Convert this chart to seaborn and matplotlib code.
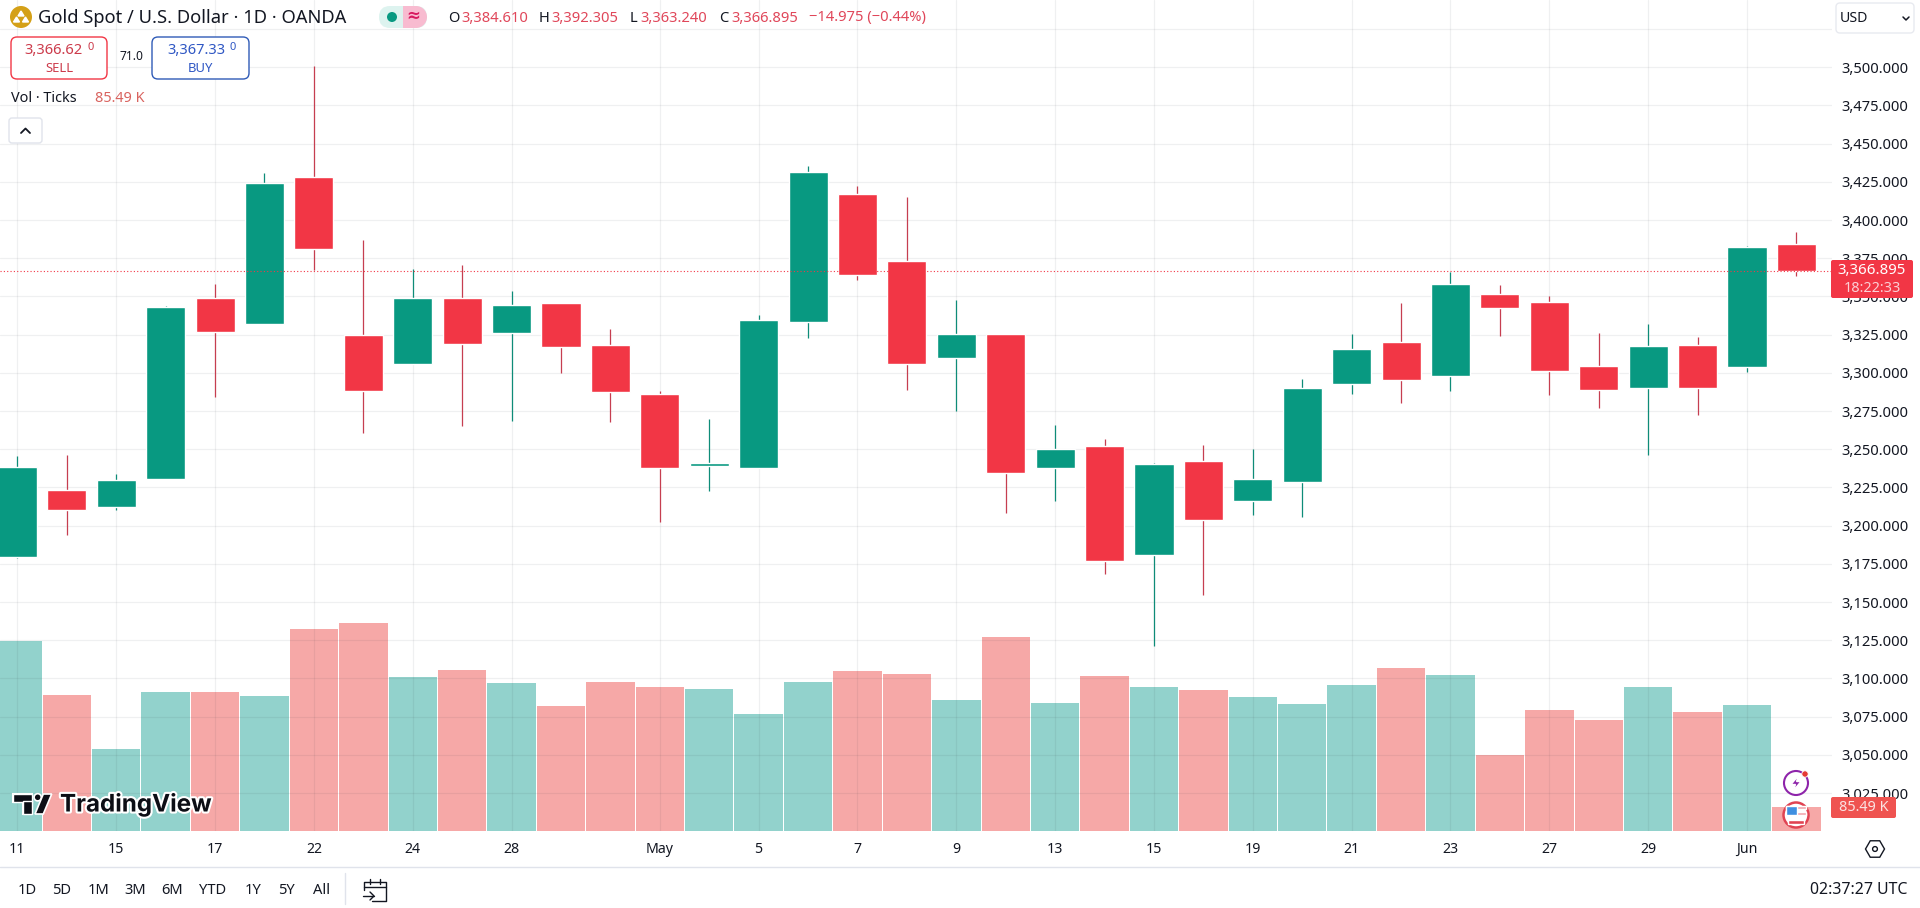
# Gold Spot / USD - TradingView daily candles + tick volume
import matplotlib
matplotlib.use('Agg')
import matplotlib.pyplot as plt
import matplotlib.patheffects as pe
from matplotlib.patches import FancyBboxPatch, Circle, Polygon, Rectangle, RegularPolygon, Wedge
import pandas as pd
import seaborn as sns

# Dane
opens = [3179.5, 3223.4, 3212.5, 3230.8, 3349.0, 3332.2, 3428.2, 3324.8, 3306.0, 3349.0, 3326.4, 3345.8, 3318.3,
         3286.0, 3239.1, 3237.8, 3333.4, 3416.9, 3373.1, 3309.8, 3325.3, 3237.8, 3252.0, 3180.9, 3242.2,
         3215.9, 3228.3, 3292.5, 3320.4, 3297.7, 3351.8, 3346.6, 3304.7, 3289.8, 3318.4, 3303.6, 3384.61]
closes = [3238.4, 3210.5, 3230.0, 3343.1, 3327.0, 3424.3, 3381.3, 3288.4, 3349.0, 3319.2, 3344.5, 3317.2, 3287.7,
          3237.8, 3240.9, 3334.5, 3431.3, 3364.1, 3305.9, 3325.3, 3234.6, 3250.0, 3177.0, 3240.2, 3203.8,
          3230.7, 3290.3, 3315.8, 3295.1, 3358.3, 3342.2, 3301.0, 3288.5, 3317.8, 3289.8, 3382.5, 3366.895]
highs = [3245.6, 3246.3, 3233.9, 3343.8, 3358.2, 3430.8, 3500.9, 3386.8, 3367.8, 3370.6, 3353.8, 3345.8, 3328.5,
         3288.0, 3269.7, 3337.7, 3435.3, 3422.4, 3415.0, 3347.6, 3325.3, 3265.8, 3257.0, 3241.1, 3252.7,
         3250.3, 3296.2, 3325.6, 3345.9, 3366.2, 3357.7, 3350.3, 3326.3, 3332.2, 3323.6, 3383.2, 3392.305]
lows = [3179.0, 3194.0, 3210.3, 3230.8, 3284.5, 3332.2, 3367.4, 3260.9, 3306.0, 3265.5, 3268.8, 3300.2, 3267.7,
        3202.5, 3222.8, 3237.8, 3322.9, 3360.9, 3288.7, 3275.1, 3208.4, 3216.0, 3168.5, 3121.0, 3154.5,
        3207.2, 3205.4, 3285.9, 3280.0, 3287.9, 3323.9, 3285.7, 3276.7, 3246.0, 3272.2, 3300.3, 3363.24]
volumes = [684, 489, 295, 500, 500, 486, 728, 749, 554, 580, 533, 450, 536, 518, 511, 421, 536, 576, 565,
           471, 699, 461, 558, 518, 508, 482, 457, 526, 587, 561, 273, 435, 399, 518, 428, 453, 85.49]
date_ticks = [0, 2, 4, 6, 8, 10, 13, 15, 17, 19, 21, 23, 25, 27, 29, 31, 33, 35]
date_labels = ['11', '15', '17', '22', '24', '28', 'May', '5', '7', '9', '13', '15', '19', '21', '23', '27', '29', 'Jun']
price_ticks = [3025, 3050, 3075, 3100, 3125, 3150, 3175, 3200, 3225, 3250, 3275, 3300, 3325, 3350, 3375, 3400,
               3425, 3450, 3475, 3500, 3525]
range_buttons = ['1D', '5D', '1M', '3M', '6M', 'YTD', '1Y', '5Y', 'All']

UP = '#089981'
DOWN = '#F23645'
INK = '#131722'
W, H = 1920, 908

df = pd.DataFrame({'bar': range(len(opens)), 'open': opens, 'close': closes, 'high': highs, 'low': lows, 'vol': volumes})
df['dir'] = ['up' if c >= o else 'down' for o, c in zip(df['open'], df['close'])]
up = df[df['dir'] == 'up']
down = df[df['dir'] == 'down']

sns.set_theme(style='white')
plt.rcParams['font.family'] = ['Noto Sans', 'DejaVu Sans']

fig = plt.figure(figsize=(W / 100, H / 100), dpi=100, facecolor='white')
rect = [0, 1 - 831 / H, 1832 / W, 831 / H]
xlim = (-0.352, 36.72)

# Wolumen (pod spodem)
ax_vol = fig.add_axes(rect, zorder=0)
sns.barplot(data=df, x='bar', y='vol', hue='dir', palette={'up': '#26A69A', 'down': '#EF5350'}, native_scale=True,
            dodge=False, width=0.98, saturation=1, alpha=0.5, linewidth=0, legend=False, errorbar=None, ax=ax_vol)
ax_vol.set_xlim(xlim)
ax_vol.set_ylim(0, 2997)
ax_vol.set_axis_off()

# Świece
ax = fig.add_axes(rect, zorder=1)
ax.patch.set_visible(False)
ax.vlines(up['bar'], up['low'], up['high'], color='#0E8C78', lw=0.9, zorder=3)
ax.vlines(down['bar'], down['low'], down['high'], color='#C63E50', lw=0.9, zorder=3)
ax.bar(up['bar'], up['close'] - up['open'], bottom=up['open'], width=0.79, color=UP, zorder=4)
ax.bar(down['bar'], down['open'] - down['close'], bottom=down['close'], width=0.79, color=DOWN, zorder=4)
ax.axhline(closes[-1], color=DOWN, ls=(0, (1, 2)), lw=0.8, zorder=5)
ax.set_xlim(xlim)
ax.set_ylim(3000.2, 3544)

ax.yaxis.tick_right()
ax.set_yticks(price_ticks)
ax.set_yticklabels(['' if p == 3525 else f'{p:,.3f}' for p in price_ticks])
ax.set_xticks(date_ticks)
ax.set_xticklabels(date_labels)
for lab in ax.get_xticklabels():
    if lab.get_text() in ('May', 'Jun'):
        lab.set_fontweight('bold')
ax.tick_params(axis='y', length=0, pad=7, labelsize=10.6, labelcolor=INK)
ax.tick_params(axis='x', length=0, pad=8, labelsize=10.2, labelcolor=INK)
ax.set_axisbelow(True)
ax.grid(True, color='#2A2E39', alpha=0.07, lw=0.9)
ax.set_xlabel('')
ax.set_ylabel('')
sns.despine(ax=ax, left=True, bottom=True, right=True, top=True)

# Nakładka w pikselach - elementy interfejsu
ov = fig.add_axes([0, 0, 1, 1], zorder=5)
ov.set_xlim(0, W)
ov.set_ylim(H, 0)
ov.set_axis_off()
ov.patch.set_visible(False)


def txt(x, y, s, size=10.5, color=INK, ha='left', weight='normal', **kw):
    return ov.text(x, y, s, fontsize=size, color=color, ha=ha, va='center', fontweight=weight, **kw)


def box(x0, y0, x1, y1, r=4, fc='white', ec='none', lw=1.0):
    p = FancyBboxPatch((x0, y0), x1 - x0, y1 - y0, boxstyle=f'round,pad=0,rounding_size={r}', fc=fc, ec=ec, lw=lw)
    ov.add_patch(p)
    return p


# Nagłówek
ov.add_patch(Circle((21, 17), 11, fc='#D4A017', ec='none'))
ov.add_patch(Polygon([(21, 11), (24, 16), (18, 16)], fc='white'))
ov.add_patch(Polygon([(16.5, 17), (19.5, 22), (13.5, 22)], fc='white'))
ov.add_patch(Polygon([(25.5, 17), (28.5, 22), (22.5, 22)], fc='white'))
txt(38, 18, 'Gold Spot / U.S. Dollar · 1D · OANDA', size=13.2)
box(379, 6, 427, 28, r=11, fc='#DDF3EF')
ov.add_patch(Wedge((416, 17), 11, -90, 90, fc='#F8BBD0', ec='none'))
ov.add_patch(Rectangle((403, 6), 13, 22, fc='#F8BBD0', ec='none'))
ov.add_patch(Circle((392, 17), 5, fc=UP, ec='none'))
txt(413, 17, '≈', size=12, color='#D81B60', ha='center', weight='bold')
for x_l, x_v, letter, val in [(448, 461, 'O', '3,384.610'), (539, 551, 'H', '3,392.305'),
                              (630, 640, 'L', '3,363.240'), (719, 731, 'C', '3,366.895')]:
    txt(x_l, 18, letter, size=10.6)
    txt(x_v, 18, val, size=10.6, color='#E0475A')
txt(809, 18, '−14.975 (−0.44%)', size=10.6, color='#E0475A')

# Sell / Buy
box(11, 37, 107, 79, r=6, ec=DOWN)
txt(24, 50, '3,366.62', size=10.6, color='#CC3B4B', weight='bold')
txt(88, 47, '0', size=8, color='#CC3B4B')
txt(59, 68, 'SELL', size=9.4, color='#CC3B4B', ha='center')
txt(131, 57, '71.0', size=8.6, ha='center')
box(152, 37, 249, 79, r=6, ec='#2F5BB7')
txt(167, 50, '3,367.33', size=10.6, color='#2F57C4', weight='bold')
txt(230, 47, '0', size=8, color='#2F57C4')
txt(200, 68, 'BUY', size=9.4, color='#2F57C4', ha='center')

# Vol
txt(11, 99, 'Vol · Ticks', size=10.4)
txt(95, 99, '85.49 K', size=10.4, color='#D9635F')
box(9, 118, 42, 143, r=3, ec='#E0E3EB')
ov.plot([21, 25.5, 30], [133, 128.5, 133], color=INK, lw=1.3, solid_capstyle='round')

# Waluta
box(1836, 3, 1914, 33, r=4, ec='#E8EAF0')
txt(1840, 18, 'USD', size=10.2)
ov.plot([1903, 1906, 1909], [17, 20, 17], color=INK, lw=1.1)

# Etykiety ceny i wolumenu
box(1831, 260, 1913, 298, r=2, fc=DOWN)
txt(1872, 270, '3,366.895', size=10.8, color='white', ha='center', weight='bold')
txt(1872, 288, '18:22:33', size=10.4, color='#FBD0D5', ha='center')
box(1831, 797, 1896, 818, r=2, fc='#EF5350')
txt(1864, 807.5, '85.49 K', size=10.4, color='#FBE3E2', ha='center')

# Ikony nad osią
ov.add_patch(Circle((1796, 783), 12, fc='white', ec='#8E24AA', lw=1.5))
ov.add_patch(Polygon([(1799, 775), (1791, 784.5), (1795.5, 784.5), (1793, 791), (1801, 781.5), (1796.5, 781.5)],
                     fc='#8E24AA'))
ov.add_patch(Circle((1805, 774), 3.2, fc='#E53935', ec='white', lw=0.6))
ov.add_patch(Circle((1796, 815), 12.5, fc='white', ec='#E04352', lw=1.8))
ov.add_patch(Rectangle((1786, 806), 20, 3, fc='#F2A6AE'))
ov.add_patch(Rectangle((1786, 812), 20, 3, fc='#F2A6AE'))
ov.add_patch(Rectangle((1788, 820), 16, 3.5, fc='#E04352'))
ov.add_patch(Rectangle((1786, 806), 11, 9, fc='#3F8FE0'))

# Logo
halo = [pe.withStroke(linewidth=3, foreground='white')]
for part in [Rectangle((13.3, 794), 19, 7.7, fc='#0C0E15', ec='white', lw=1.5),
             Rectangle((22.7, 801), 9.6, 13, fc='#0C0E15', ec='white', lw=1.5),
             Circle((37.7, 797.3), 3.6, fc='#0C0E15', ec='white', lw=1.2),
             Polygon([(43.3, 794), (51.7, 794), (43.3, 814), (35, 814)], fc='#0C0E15', ec='white', lw=1.2)]:
    ov.add_patch(part)
ov.add_patch(Rectangle((13.3, 794), 19, 7.7, fc='#0C0E15'))
ov.add_patch(Rectangle((22.7, 801), 9.6, 13, fc='#0C0E15'))
txt(60, 805, 'TradingView', size=17.4, color='#0C0E15', weight='bold', family='Inter', path_effects=halo)

# Ikona ustawień
ov.add_patch(RegularPolygon((1875, 849), 6, radius=9.5, orientation=0.5236, fc='white', ec=INK, lw=1.0))
ov.add_patch(Circle((1875, 849), 2.4, fc='white', ec=INK, lw=1.0))

# Dolny pasek
ov.plot([0, W], [866.5, 866.5], color='#E0E3EB', lw=1.0)
for x, s in zip([27.7, 62, 98.7, 135, 171.7, 212.7, 252.7, 286.7, 321.7], range_buttons):
    txt(x, 890.5, s, size=10.6, ha='center')
ov.plot([345.3, 345.3], [873, 904], color='#E0E3EB', lw=1.0)
ov.plot([364, 364, 386, 386, 372], [890, 882, 882, 901, 901], color=INK, lw=1.0)
ov.plot([364, 386], [886.5, 886.5], color=INK, lw=1.0)
ov.plot([370, 370], [879, 884], color=INK, lw=1.0)
ov.plot([380, 380], [879, 884], color=INK, lw=1.0)
ov.plot([363, 374], [896, 896], color=INK, lw=1.0)
ov.plot([370, 374, 370], [892, 896, 900], color=INK, lw=1.0)
txt(1907, 890, '02:37:27 UTC', size=11.4, ha='right')

fig.savefig('out.png', dpi=100)
